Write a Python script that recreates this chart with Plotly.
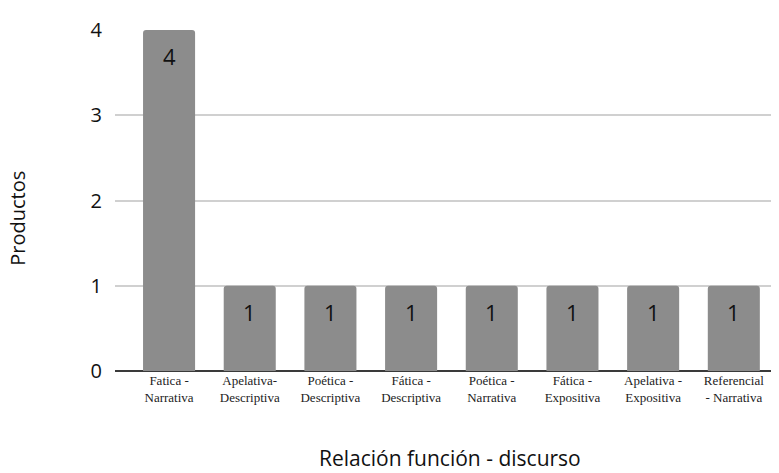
import plotly.graph_objects as go

categories = [
    "Fatica -<br>Narrativa",
    "Apelativa-<br>Descriptiva",
    "Poética -<br>Descriptiva",
    "Fática -<br>Descriptiva",
    "Poética -<br>Narrativa",
    "Fática -<br>Expositiva",
    "Apelativa -<br>Expositiva",
    "Referencial<br>- Narrativa",
]
productos = [4, 1, 1, 1, 1, 1, 1, 1]

fig = go.Figure(
    go.Bar(
        x=categories,
        y=productos,
        marker=dict(color="#8c8c8c", line=dict(width=0), cornerradius=3),
    )
)

# value labels placed inside the top of each bar
labels = [
    dict(
        x=c, y=v, xref="x", yref="y", text=str(v), showarrow=False,
        yanchor="middle", yshift=-26,
        font=dict(family="Open Sans, sans-serif", size=22, color="#111"),
    )
    for c, v in zip(categories, productos)
]

fig.update_layout(
    width=779,
    height=473,
    margin=dict(l=107, r=8, t=16, b=110),
    plot_bgcolor="white",
    paper_bgcolor="white",
    bargap=0.355,
    showlegend=False,
    xaxis=dict(
        range=[-0.67, 7.56],
        tickfont=dict(family="Liberation Serif, serif", size=13, color="#222"),
        showgrid=False,
        ticks="",
        showline=False,
    ),
    yaxis=dict(
        range=[0, 4],
        dtick=1,
        tickfont=dict(family="Open Sans, sans-serif", size=20, color="#111"),
        gridcolor="#d0d0d0",
        gridwidth=2,
        zeroline=True,
        zerolinecolor="#3a3a3a",
        zerolinewidth=2,
        ticklabelstandoff=12,
    ),
    annotations=labels + [
        dict(
            text="Productos",
            x=-97 / 664, y=156 / 347, xref="paper", yref="paper",
            xanchor="center", yanchor="middle",
            showarrow=False, textangle=-90,
            font=dict(family="Open Sans, sans-serif", size=20, color="#111"),
        ),
        dict(
            text="Relación función - discurso",
            x=0.5045, y=-89 / 347, xref="paper", yref="paper",
            xanchor="center", yanchor="middle",
            showarrow=False,
            font=dict(family="Open Sans, sans-serif", size=21, color="#111"),
        ),
    ],
)

fig.write_html("out.html")
